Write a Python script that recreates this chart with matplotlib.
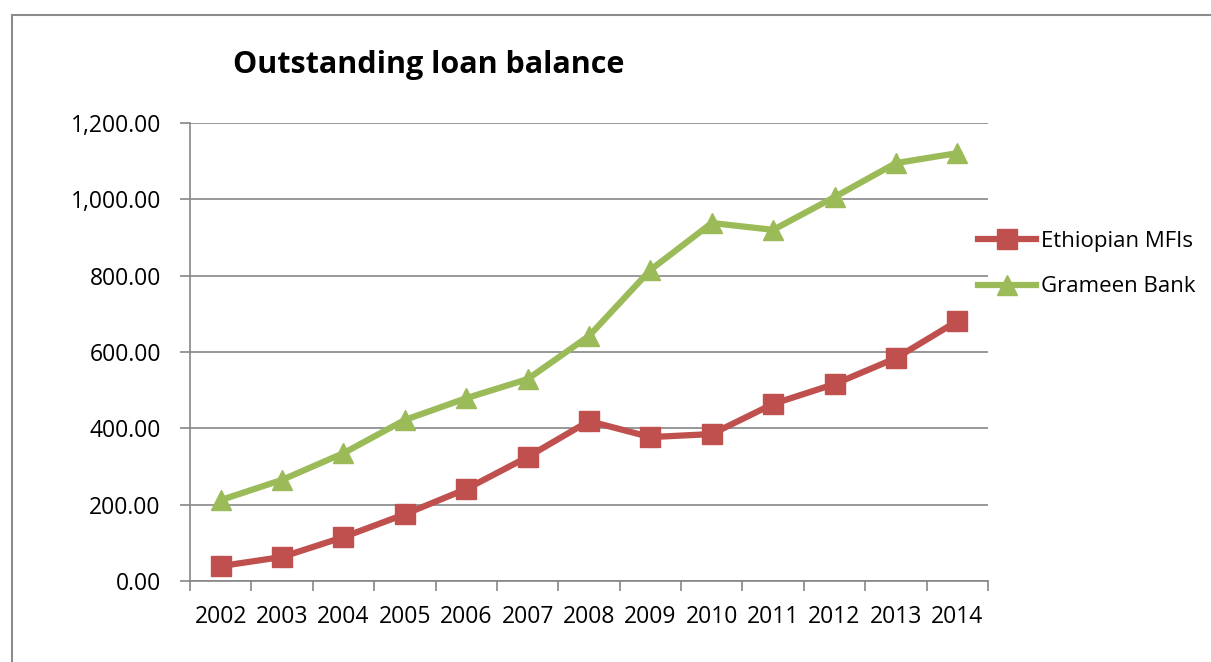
import matplotlib
matplotlib.use('Agg')
import matplotlib.pyplot as plt
from matplotlib.patches import Rectangle
from matplotlib.ticker import FuncFormatter, MultipleLocator

years = ['2002', '2003', '2004', '2005', '2006', '2007', '2008', '2009', '2010', '2011', '2012', '2013', '2014']
ethiopian = [39, 63, 115, 175, 241, 325, 419, 377, 385, 464, 516, 584, 681]
grameen = [212, 265, 335, 422, 479, 529, 642, 815, 938, 920, 1006, 1095, 1121]

plt.rcParams['font.family'] = ['Open Sans', 'DejaVu Sans']

fig = plt.figure(figsize=(12.11, 6.62), dpi=100)
# outer chart border
fig.patches.append(Rectangle((12/1211, -0.05), 1.1, 1 - 15/662 + 0.05, transform=fig.transFigure,
                             fill=False, edgecolor='#8c8c8c', linewidth=1.5))

ax = fig.add_axes([190/1211, 1 - 581/662, 798/1211, 458/662])
x = list(range(len(years)))
ax.plot(x, ethiopian, color='#C0504D', linewidth=4.5, marker='s', markersize=14, label='Ethiopian MFIs')
ax.plot(x, grameen, color='#9BBB59', linewidth=4.5, marker='^', markersize=15, label='Grameen Bank')

ax.set_xlim(-0.5, len(years) - 0.5)
ax.set_ylim(0, 1200)
ax.yaxis.set_major_locator(MultipleLocator(200))
ax.yaxis.set_major_formatter(FuncFormatter(lambda v, p: f'{v:,.2f}'))
ax.grid(axis='y', color='#868686', linewidth=1.2)
ax.set_axisbelow(True)

ax.set_xticks(x)
ax.set_xticklabels(years)
ax.set_xticks([i - 0.5 for i in range(len(years) + 1)], minor=True)
ax.tick_params(axis='x', which='major', length=0, labelsize=16.5, pad=17)
ax.tick_params(axis='x', which='minor', length=7, color='#868686', width=1.2)
ax.tick_params(axis='y', length=7, color='#868686', width=1.2, labelsize=16.5, pad=14)

for s in ['top', 'right']:
    ax.spines[s].set_visible(False)
for s in ['left', 'bottom']:
    ax.spines[s].set_color('#868686')
    ax.spines[s].set_linewidth(1.2)

fig.text(233/1211, 1 - 65/662, 'Outstanding loan balance', fontsize=22, fontweight='bold', va='center')

ax.legend(loc='center left', bbox_to_anchor=(0.963, 0.692), frameon=False, fontsize=16,
          handlelength=2.6, labelspacing=1.1, handletextpad=0.2)

fig.savefig('out.png', dpi=100)
